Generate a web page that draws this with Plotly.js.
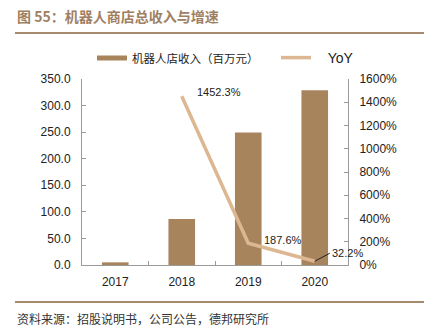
<!DOCTYPE html>
<html><head><meta charset="utf-8">
<script src="https://cdn.plot.ly/plotly-3.0.1.min.js"></script>
<style>body{margin:0;background:#fff}#c{width:433px;height:331px}</style>
</head><body><div id="c"></div>
<script>
var years = [2017, 2018, 2019, 2020];
var revenue = [5.0, 86.6, 249.5, 329.0];
var yoyYears = [2018, 2019, 2020];
var yoy = [1452.3, 187.6, 32.2];
var yoyLabels = ['1452.3%','187.6%','32.2%'];
var leftTicks = [0,50,100,150,200,250,300,350];
var rightTicks = [0,200,400,600,800,1000,1200,1400,1600];
var barName = '机器人店收入（百万元）';
var lineName = 'YoY';

var cjk = '"Noto Sans CJK SC", sans-serif';
var lat = '"Liberation Sans", Arial, sans-serif';
var brown = '#A8845C';
var tan = '#DDB791';
var axisCol = '#9a9a9a';

var traces = [
  {type:'bar', x:years, y:revenue, width:0.4, name:barName, showlegend:false, marker:{color:brown}, xaxis:'x', yaxis:'y', hoverinfo:'none'},
  {type:'scatter', mode:'lines', x:yoyYears, y:yoy, name:lineName, showlegend:false, line:{color:tan, width:3.5}, xaxis:'x', yaxis:'y2', hoverinfo:'none'},
  // legend swatches only
  {type:'scatter', mode:'lines', x:[null], y:[null], name:barName, legend:'legend', line:{color:brown, width:5}, xaxis:'x', yaxis:'y', hoverinfo:'none'},
  {type:'scatter', mode:'lines', x:[null], y:[null], name:'\u00a0\u00a0\u00a0'+lineName, legend:'legend2', line:{color:tan, width:3.5}, xaxis:'x', yaxis:'y2', hoverinfo:'none'}
];

function px(x){return (x-82)/266;}
function py(y){return (265-y)/186;}

var anns = [
  {text:'图 55：机器人商店总收入与增速', xref:'paper', yref:'paper', x:px(15), y:py(16), xanchor:'left', yanchor:'middle', showarrow:false, font:{family:cjk, size:14, color:'#A08062', weight:'bold'}},
  {text:'资料来源：招股说明书，公司公告，德邦研究所', xref:'paper', yref:'paper', x:px(15), y:py(318), xanchor:'left', yanchor:'middle', showarrow:false, font:{family:cjk, size:12, color:'#333'}},
  {text:yoyLabels[0], xref:'x', yref:'y2', x:yoyYears[0], y:yoy[0], xanchor:'left', yanchor:'bottom', xshift:13, yshift:-4, showarrow:false, font:{family:lat, size:11, color:'#222'}},
  {text:yoyLabels[1], xref:'x', yref:'y2', x:yoyYears[1], y:yoy[1], xanchor:'left', yanchor:'bottom', xshift:14, yshift:-5, showarrow:false, font:{family:lat, size:11, color:'#222'}},
  {text:yoyLabels[2], xref:'x', yref:'y2', x:yoyYears[2], y:yoy[2], xanchor:'left', yanchor:'middle', showarrow:true, arrowhead:0, arrowwidth:1, arrowcolor:'#222', ax:15, ay:-8, font:{family:lat, size:11, color:'#222'}}
];

var layout = {
  width:433, height:331,
  margin:{l:82, r:85, t:79, b:66},
  paper_bgcolor:'#fff', plot_bgcolor:'#fff',
  showlegend:true,
  legend:{orientation:'h', x:px(92), y:py(58), xanchor:'left', yanchor:'middle', font:{family:cjk, size:11.5, color:'#222'}, bgcolor:'rgba(0,0,0,0)'},
  legend2:{orientation:'h', x:px(276), y:py(58), xanchor:'left', yanchor:'middle', font:{family:lat, size:14, color:'#222'}, bgcolor:'rgba(0,0,0,0)'},
  xaxis:{type:'linear', range:[2016.5, 2020.5], tickmode:'array', tickvals:years, ticktext:years.map(String), ticks:'', ticklabelstandoff:6, showline:true, linecolor:axisCol, linewidth:1, showgrid:false, zeroline:false, tickfont:{family:lat, size:12, color:'#222'},
         minor:{tickmode:'array', tickvals:[2017.5,2018.5,2019.5], ticks:'inside', ticklen:4, tickcolor:axisCol, showgrid:false}},
  yaxis:{type:'linear', range:[0,350], tickmode:'array', tickvals:leftTicks, ticktext:leftTicks.map(function(v){return v.toFixed(1);}), ticklabelstandoff:8, showline:true, linecolor:axisCol, linewidth:1, ticks:'inside', ticklen:4, tickcolor:axisCol, showgrid:false, zeroline:false, tickfont:{family:lat, size:12, color:'#222'}},
  yaxis2:{type:'linear', range:[0,1600], tickmode:'array', tickvals:rightTicks, ticktext:rightTicks.map(function(v){return v+'%';}), ticklabelstandoff:8, overlaying:'y', side:'right', anchor:'x', showline:true, linecolor:axisCol, linewidth:1, ticks:'inside', ticklen:4, tickcolor:axisCol, showgrid:false, zeroline:false, tickfont:{family:lat, size:12, color:'#222'}},
  shapes:[
    {type:'line', xref:'paper', yref:'paper', x0:px(15), x1:px(424), y0:py(33), y1:py(33), line:{color:'#A88A6E', width:2}},
    {type:'line', xref:'paper', yref:'paper', x0:px(15), x1:px(424), y0:py(302), y1:py(302), line:{color:'#A88A6E', width:2}}
  ],
  annotations:anns
};
Plotly.newPlot('c', traces, layout, {staticPlot:true, displayModeBar:false});
</script></body></html>
